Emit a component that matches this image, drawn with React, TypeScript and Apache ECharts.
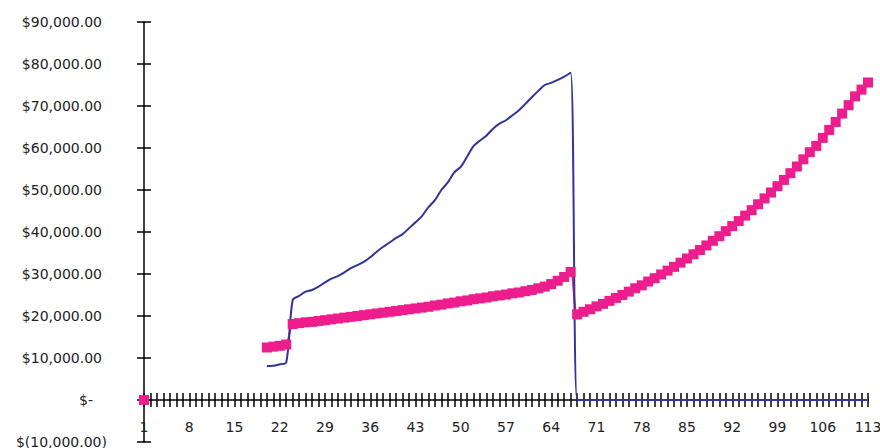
import React, { useEffect, useRef } from "react";
import * as echarts from "echarts";

// Category labels (ages / years 1..113)
const categories: string[] = Array.from({ length: 113 }, (_, i) => String(i + 1));

// Pink series (square markers): value at 1, gap, then 20..113
const pinkValues: (number | null)[] = [
  0,
  null, null, null, null, null, null, null, null, null,
  null, null, null, null, null, null, null, null, null,
  // 20..23
  12500, 12700, 12900, 13200,
  // 24..67
  18100, 18300, 18500, 18600, 18800, 19000, 19200, 19400, 19600, 19800,
  20000, 20200, 20400, 20600, 20800, 21000, 21200, 21400, 21600, 21800,
  22000, 22200, 22500, 22700, 23000, 23200, 23500, 23700, 24000, 24200,
  24400, 24700, 24900, 25100, 25400, 25600, 25900, 26200, 26600, 27000,
  27600, 28400, 29300, 30500,
  // 68..113
  20400, 21000, 21600, 22300, 22900, 23600, 24300, 25000, 25800, 26600,
  27300, 28200, 29000, 29900, 30800, 31700, 32700, 33700, 34700, 35700,
  36800, 37900, 39000, 40200, 41400, 42600, 43900, 45200, 46600, 48000,
  49400, 50900, 52400, 54000, 55600, 57300, 59000, 60500, 62400, 64300,
  66200, 68200, 70200, 72300, 73900, 75600,
];

// Blue series (line): gap 1..19, then 20..113
const blueValues: (number | null)[] = [
  null, null, null, null, null, null, null, null, null, null,
  null, null, null, null, null, null, null, null, null,
  // 20..67
  8100, 8150, 8500, 8900, 23800, 24800, 25800, 26200, 27000, 28000,
  28900, 29500, 30400, 31400, 32100, 32900, 34000, 35300, 36500, 37500,
  38600, 39500, 40900, 42300, 43800, 45900, 47600, 50000, 51800, 54200,
  55500, 58000, 60500, 61800, 63000, 64600, 65800, 66600, 67800, 69000,
  70500, 72100, 73600, 75000, 75500, 76200, 77000, 77900,
  // 68..113
  0, 0, 0, 0, 0, 0, 0, 0, 0, 0,
  0, 0, 0, 0, 0, 0, 0, 0, 0, 0,
  0, 0, 0, 0, 0, 0, 0, 0, 0, 0,
  0, 0, 0, 0, 0, 0, 0, 0, 0, 0,
  0, 0, 0, 0, 0, 0,
];

const FONT = "'DejaVu Sans', sans-serif";
const LABEL_COLOR = "#222";
const AXIS_COLOR = "#000";
const PINK = "#EE1D8D";
const BLUE = "#333399";

function fmtMoney(v: number): string {
  return v.toLocaleString("en-US", { minimumFractionDigits: 2, maximumFractionDigits: 2 });
}

export default function App() {
  const ref = useRef<HTMLDivElement>(null);

  useEffect(() => {
    if (!ref.current) return;
    const chart = echarts.init(ref.current, undefined, { renderer: "svg" });
    const yLabel = { fontFamily: FONT, fontSize: 14, color: LABEL_COLOR };
    const xLabel = { fontFamily: FONT, fontSize: 14, color: LABEL_COLOR };
    const tickStyle = { color: AXIS_COLOR, width: 1.5 };
    chart.setOption({
      animation: false,
      backgroundColor: "#fff",
      grid: [
        // main plot grid
        { left: 144, right: 12, top: 22, bottom: 6, containLabel: false, outerBoundsMode: "none" },
        // helper grid whose bottom edge is the zero line, carrying the category labels
        { left: 144, right: 12, top: 22, bottom: 48, containLabel: false, outerBoundsMode: "none" },
      ],
      xAxis: [
        {
          type: "category",
          gridIndex: 0,
          data: categories,
          boundaryGap: false,
          position: "bottom",
          axisLine: { show: true, onZero: true, lineStyle: tickStyle },
          axisTick: { show: true, interval: 0, length: 7, lineStyle: tickStyle },
          axisLabel: { show: false },
          splitLine: { show: false },
        },
        {
          type: "category",
          gridIndex: 0,
          data: categories,
          boundaryGap: false,
          position: "bottom",
          axisLine: { show: false, onZero: true },
          axisTick: { show: true, inside: true, interval: 0, length: 7, lineStyle: tickStyle },
          axisLabel: { show: false },
          splitLine: { show: false },
        },
        {
          type: "category",
          gridIndex: 1,
          data: categories,
          boundaryGap: false,
          position: "bottom",
          axisLine: { show: false },
          axisTick: { show: false },
          axisLabel: { show: true, interval: 6, margin: 20, ...xLabel },
          splitLine: { show: false },
        },
      ],
      yAxis: [
        {
          type: "value",
          gridIndex: 0,
          min: -10000,
          max: 90000,
          interval: 10000,
          position: "left",
          axisLine: { show: true, lineStyle: tickStyle },
          axisTick: { show: true, length: 7, lineStyle: tickStyle },
          splitLine: { show: false },
          axisLabel: {
            margin: 37,
            ...yLabel,
            formatter: (v: number) => {
              if (v === 0) return "{z|$-}";
              if (v < 0) return "{n|$(" + fmtMoney(-v) + ")}";
              return "{p|$" + fmtMoney(v) + "}";
            },
            rich: {
              p: { ...yLabel, padding: [0, 5, 0, 0] },
              z: { ...yLabel, padding: [0, 14, 0, 0] },
              n: { ...yLabel },
            },
          },
        },
        {
          type: "value",
          gridIndex: 0,
          min: -10000,
          max: 90000,
          interval: 10000,
          position: "left",
          axisLine: { show: false },
          axisTick: { show: true, inside: true, length: 7, lineStyle: tickStyle },
          axisLabel: { show: false },
          splitLine: { show: false },
        },
        {
          type: "value",
          gridIndex: 1,
          min: 0,
          max: 90000,
          interval: 10000,
          show: false,
        },
      ],
      series: [
        {
          type: "line",
          data: pinkValues,
          xAxisIndex: 0,
          yAxisIndex: 0,
          symbol: "rect",
          symbolSize: 10,
          showSymbol: true,
          showAllSymbol: true,
          connectNulls: false,
          smooth: 0.3,
          itemStyle: { color: PINK },
          lineStyle: { color: PINK, width: 2 },
        },
        {
          type: "line",
          data: blueValues,
          xAxisIndex: 0,
          yAxisIndex: 0,
          symbol: "none",
          connectNulls: false,
          smooth: 0.3,
          lineStyle: { color: BLUE, width: 2 },
          itemStyle: { color: BLUE },
        },
      ],
    });
    return () => chart.dispose();
  }, []);

  return (
    <div
      ref={ref}
      style={{ position: "fixed", left: 0, top: 0, width: 880, height: 448 }}
    />
  );
}
